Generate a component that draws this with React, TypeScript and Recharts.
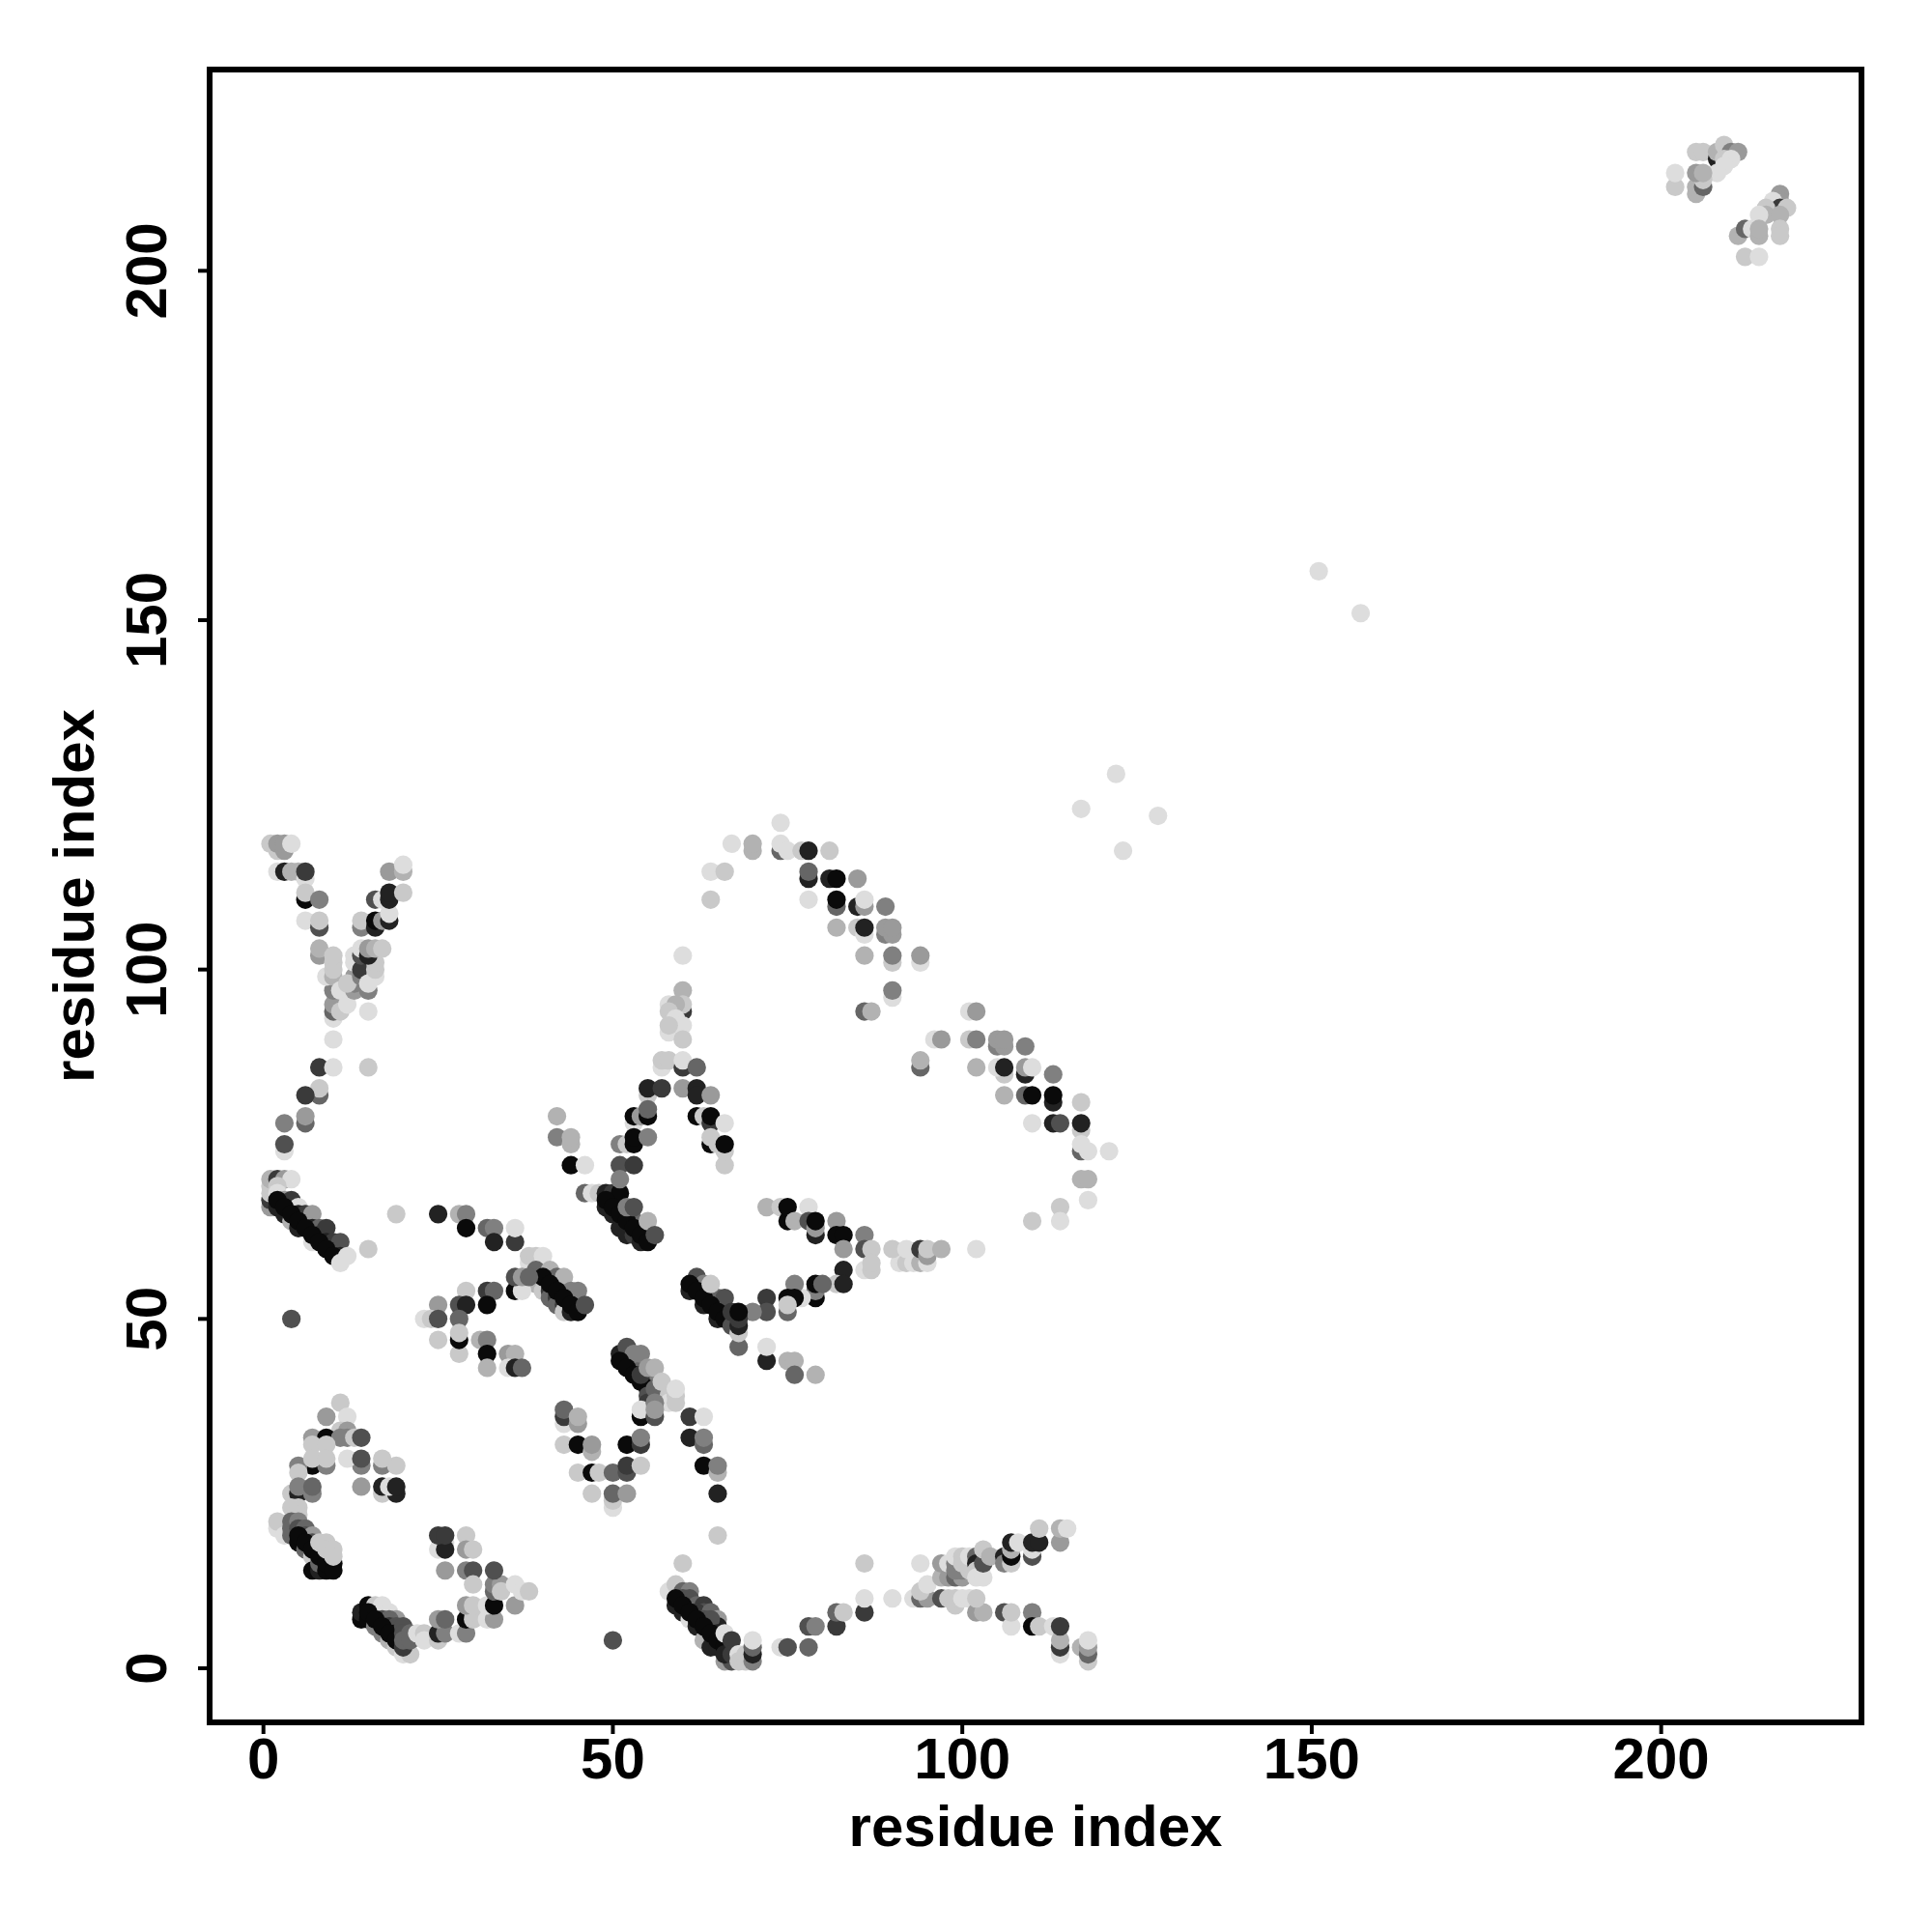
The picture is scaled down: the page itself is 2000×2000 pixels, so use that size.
import { ScatterChart, Scatter, XAxis, YAxis, ReferenceArea, Label } from "recharts";

// contacts as [residue x, residue y, strength 0-9]
type Contact = [number, number, number];

const axisTicks = [0, 50, 100, 150, 200];
const axisLabel = "residue index";

const hookLowLeft: Contact[] = [
  [11,38,1],[9,36,3],[12,36,0],[11,34,1],[12,34,3],[7,33,3],[9,33,9],[11,33,4],[12,33,4],[13,33,1],[14,33,6],
  [7,29,9],[9,29,4],[14,29,4],[17,29,4],[19,29,1],[5,29,4],[7,32,1],[9,32,1],[7,30,1],[9,30,1],[12,30,0],[14,30,6],[17,30,1],
  [14,26,3],[17,25,1],[17,26,8],[19,25,8],[18,26,0],[19,26,8],[5,28,1],[4,25,1],[5,25,8],[5,26,4],[7,25,4],[7,26,5],
  [4,23,1],[5,23,1],[5,22,1],[2,20,0],[2,21,1],[3,19,0],
  [4,21,5],[4,20,5],[4,19,5],[5,21,4],[5,20,6],[5,18,9],[6,20,5],[6,19,6],[6,17,5],[7,19,3],[7,18,6],[7,16,1],
  [7,14,9],[8,14,8],[8,15,5],[8,17,6],[9,14,9],[9,16,6],[10,15,9],
  [5,19,9],[6,18,9],[7,17,9],[8,16,9],[9,15,9],[10,14,9],
  [8,18,1],[9,18,1],[9,17,1],[10,17,1],[10,16,1],
];

const hookLowMid: Contact[] = [
  [14,7,9],[14,8,8],[15,9,9],[15,7,9],[16,8,8],[16,6,4],[16,9,1],[17,9,0],[18,8,0],[19,7,3],
  [17,7,6],[17,5,4],[18,7,5],[18,6,7],[18,4,2],[19,6,6],[19,5,8],[19,3,1],[20,2,0],[21,2,1],
  [15,8,9],[16,7,9],[17,6,9],[18,5,9],[19,4,9],[20,3,7],
  [20,6,6],[20,5,6],[20,4,5],[21,5,5],[21,4,5],[22,5,0],[23,5,1],[23,4,0],[25,4,1],[25,5,8],[26,5,4],[25,7,3],[26,7,5],
  [28,5,0],[29,5,4],[29,7,9],[30,7,1],[30,8,1],[29,9,3],[30,9,1],[32,7,0],[33,7,3],[32,9,0],[33,9,9],[36,9,3],
  [33,11,5],[33,12,4],[34,12,3],[34,11,1],[36,12,0],[37,11,0],[38,11,1],[33,14,6],
  [25,17,0],[26,18,0],[26,17,8],[25,19,7],[26,19,7],[29,19,1],[29,17,3],[30,17,1],[26,14,3],[29,14,4],[30,14,6],[30,12,1],
];

const vLowCentre: Contact[] = [
  [65,25,8],[65,19,1],[60,15,1],[58,11,0],[59,12,1],[59,9,8],[60,11,5],[61,11,4],[60,10,6],[60,8,8],
  [61,10,6],[61,9,6],[61,7,0],[62,9,5],[63,9,7],[63,8,6],[62,8,7],[62,6,8],[64,8,5],[65,7,3],
  [63,7,6],[64,6,6],[65,6,8],[64,7,6],[65,5,8],[63,4,2],[64,3,8],[65,3,8],[66,1,3],[67,1,6],
  [59,10,9],[60,9,9],[61,8,9],[62,7,9],[63,6,9],[64,5,9],[65,4,9],[66,3,9],[66,2,8],
  [66,5,0],[67,4,7],
  [67,2,7],[68,2,0],[68,1,1],[69,1,1],[69,2,1],[70,1,4],[70,2,8],[70,3,5],[70,4,0],
  [74,3,0],[75,3,6],[78,3,5],[78,6,6],[79,6,4],[82,6,7],[82,8,5],[83,8,1],[86,8,7],[86,10,0],[86,15,1],[50,4,6],
];

const forkLowRight: Contact[] = [
  [90,10,0],[93,10,0],[94,10,5],[95,10,3],[94,11,1],[95,12,0],[97,10,6],[98,10,1],[99,9,1],[99,10,1],[100,10,0],[101,10,0],[102,8,3],[103,8,2],[102,10,1],
  [94,15,0],[97,13,2],[98,13,3],[97,15,3],[98,15,0],[99,13,5],[100,13,3],[99,14,4],[99,15,4],[99,16,0],[100,14,4],[100,15,1],[100,16,1],
  [101,14,1],[101,15,1],[101,16,0],[102,16,5],[102,15,8],[102,14,1],[102,13,0],[103,13,0],[103,15,6],[103,17,1],[104,16,2],
  [106,16,8],[106,15,4],[107,15,1],[107,16,9],[107,17,2],[107,18,8],[108,18,0],[110,16,6],[110,17,0],[110,18,8],[111,18,8],
  [111,20,1],[114,18,3],[114,20,2],[115,20,0],
  [106,8,6],[107,6,0],[107,8,1],[110,8,4],[110,6,9],[111,6,1],[113,6,0],[114,2,0],[114,3,7],[114,4,2],[114,6,7],
  [118,1,1],[117,3,2],[118,2,5],[118,3,3],[118,4,0],
];

const sideBandUpper: Contact[] = [
  [19,65,1],[25,65,8],[28,65,2],[29,65,4],[29,63,9],[32,63,5],[33,63,4],[33,61,8],[36,61,7],[36,63,0],
  [38,58,0],[38,59,1],[39,59,1],[40,59,0],[39,57,5],[41,57,2],[42,56,5],[43,56,2],
  [39,55,2],[40,54,1],[41,54,7],[41,53,5],[42,53,7],[42,52,5],[43,52,7],[43,51,1],
  [44,51,8],[44,54,4],[45,54,4],
  [40,56,9],[41,55,9],[42,54,9],[43,53,9],[44,52,9],[45,51,9],[46,52,6],
  [36,54,9],[37,54,0],[36,56,6],[37,56,3],[38,56,5],
  [29,54,1],[32,54,7],[33,54,5],[28,52,6],[29,52,8],[32,52,9],[25,52,3],[23,50,0],[24,50,1],[25,50,6],[28,50,5],
  [25,47,1],[28,45,1],[28,47,9],[28,48,1],[31,47,2],[32,47,4],[32,45,9],[32,43,2],[35,45,3],[36,45,2],[35,43,0],[36,43,8],[37,43,5],
];

const diagCentreHigh: Contact[] = [
  [46,68,5],[47,68,0],[48,68,1],[49,68,8],[50,68,7],[51,68,9],[49,66,8],[50,65,8],[51,63,8],
  [52,62,8],[53,64,5],[54,63,5],[53,62,7],[54,61,8],
  [49,67,9],[50,66,9],[51,65,9],[52,64,9],[53,63,9],[54,62,9],[55,61,9],
  [52,66,4],[53,66,6],[55,64,2],[56,62,6],
];

const diagCentreLow: Contact[] = [
  [51,45,8],[52,44,8],[53,43,8],[54,43,5],[52,46,6],[53,45,4],[54,45,4],[55,42,4],
  [51,44,9],[52,43,9],[53,42,9],[54,41,9],[55,40,9],[54,42,7],
  [55,43,3],[56,43,2],[55,39,6],[55,38,7],[56,40,5],[57,41,1],[58,39,1],[58,38,0],[59,38,1],[59,39,1],[59,40,0],
  [54,36,9],[54,37,0],[56,36,6],[56,38,4],[56,37,3],[61,36,7],[63,36,0],
  [43,35,0],[43,36,7],[43,37,5],[45,35,3],[45,36,2],[43,32,1],[45,32,9],[47,31,2],[47,32,3],
  [52,32,9],[54,32,7],[54,33,4],[61,33,8],[63,32,5],[63,33,4],
  [45,28,1],[47,28,9],[48,28,1],[50,28,5],[52,28,6],[52,29,7],[54,29,1],
  [47,25,1],[50,23,0],[50,24,1],[50,25,5],[52,25,3],
  [63,29,9],[65,28,2],[65,29,4],
];

const armCentreRight: Contact[] = [
  [72,66,2],[74,66,1],[75,64,9],[75,66,9],[76,64,2],[78,66,0],[78,64,6],[79,62,8],[79,63,3],[79,64,9],[82,64,3],[82,62,9],[83,62,9],[83,60,3],
  [86,62,4],[86,60,6],[87,60,1],[86,57,0],[87,57,1],[87,58,1],[83,57,8],[82,55,1],[83,55,8],
  [79,53,9],[79,54,4],[79,55,9],[80,55,5],[77,53,0],[76,55,4],[75,53,9],[76,53,9],[75,51,5],[75,52,1],[72,53,7],[72,51,6],[70,51,4],
  [61,54,8],[62,56,6],[63,52,8],[63,55,4],[65,52,8],[65,53,5],[65,50,8],[66,51,8],[66,53,6],
  [61,55,9],[62,54,9],[63,53,9],[64,52,9],[65,51,9],[66,50,9],[67,49,6],[64,55,1],
  [67,51,7],[68,46,5],[68,48,1],[68,49,8],[68,50,7],[68,51,9],
  [72,44,8],[72,46,0],[75,44,2],[76,44,2],[76,42,5],[79,42,2],
  [91,58,0],[92,58,1],[93,58,0],[94,58,2],[95,58,0],[90,60,1],[92,60,0],[94,60,7],[95,59,3],[95,60,1],[97,60,2],[102,60,0],
];

const diagLeftMid: Contact[] = [
  [8,82,5],[8,83,1],[6,82,7],[8,86,7],[10,86,0],[15,86,1],[6,78,5],[6,79,3],[3,78,4],[3,74,0],[3,75,6],[15,60,1],[4,50,6],
  [1,66,3],[1,67,7],[1,68,1],[1,69,1],[1,70,2],[2,70,7],[3,70,3],[4,70,0],[2,69,1],[2,68,0],[2,66,8],[3,67,3],[4,67,7],[5,66,0],
  [3,65,8],[4,64,2],[5,65,8],[5,63,8],[6,64,8],[6,65,7],[7,65,3],[7,63,8],[7,61,0],
  [8,63,5],[8,62,8],[9,63,7],[9,61,8],[10,61,7],[11,61,6],[11,59,8],
  [2,67,9],[3,66,9],[4,65,9],[5,64,9],[6,63,9],[7,62,9],[8,61,9],[9,60,9],[10,59,9],
  [11,58,0],[12,59,0],
];

const vUpperLeft: Contact[] = [
  [1,118,1],[2,117,1],[2,118,3],[3,117,3],[3,118,3],[4,118,0],[2,114,0],[3,114,8],[4,114,2],[5,114,2],[6,113,0],[6,114,7],
  [6,110,9],[6,111,1],[8,110,4],[6,107,0],[8,106,6],[8,107,1],[8,102,3],[8,103,2],
  [10,93,0],[10,94,5],[10,95,3],[10,97,4],[9,99,0],[10,99,2],[10,100,1],[10,101,1],[10,102,1],[11,94,1],[11,97,0],[12,95,0],[10,90,0],
  [13,97,3],[13,98,4],[13,99,3],[12,98,1],[13,101,0],[13,102,0],[14,99,4],[14,100,7],[14,102,6],[14,103,0],
  [15,97,4],[15,98,0],[16,99,0],[16,100,1],[16,101,1],[15,102,8],[15,103,3],[16,103,2],[17,103,1],[15,94,0],
  [14,106,4],[14,107,1],[16,106,8],[16,107,9],[17,107,3],[18,107,8],[18,108,0],
  [16,110,6],[17,110,0],[18,110,8],[18,111,8],[20,111,1],[18,114,3],[20,114,2],[20,115,0],
];

const ridgeCentre: Contact[] = [
  [60,102,0],[60,97,2],[60,94,7],[60,95,1],[58,95,0],[59,95,2],[58,94,1],[59,93,0],[60,92,0],[58,91,0],[58,92,1],[60,90,1],
  [57,86,0],[57,87,1],[58,87,1],[60,86,7],[60,87,0],[62,86,5],
  [55,82,1],[55,83,8],[57,83,7],[60,83,3],[62,83,8],[62,82,8],[64,82,3],
  [62,79,9],[63,79,1],[64,78,7],[64,79,9],[66,78,0],[53,78,0],[53,79,9],[54,79,3],[55,79,9],[55,80,5],
  [64,75,9],[64,76,1],[65,75,1],[66,72,1],[66,74,1],[66,75,9],
  [51,75,4],[52,75,1],[53,75,9],[53,76,9],[55,76,4],[51,72,6],[53,72,7],[51,70,4],
  [42,79,2],[42,76,4],[44,75,2],[44,76,2],[44,72,9],[46,72,0],
];

const arcUpper: Contact[] = [
  [74,121,0],[67,118,0],[70,117,2],[70,118,2],[74,117,5],[74,118,0],[75,117,0],[77,117,1],[78,117,8],[81,117,1],
  [64,114,0],[66,114,1],[78,113,8],[78,114,5],[81,113,8],[82,113,9],[85,113,3],
  [64,110,1],[78,110,0],[82,109,5],[82,110,9],[85,109,8],[86,109,3],[86,110,0],[89,109,4],
  [82,106,2],[85,106,1],[86,105,0],[86,106,8],[89,105,4],[90,105,3],[89,106,3],[90,106,3],
  [86,102,2],[90,101,1],[90,102,4],[94,101,0],[94,102,3],[90,96,0],[90,97,4],[86,94,5],[87,94,2],
];

const arcRight: Contact[] = [
  [101,94,0],[102,94,3],[96,90,0],[97,90,3],[101,90,1],[102,90,4],[105,89,4],[106,89,3],[105,90,3],[106,90,3],[109,89,4],
  [94,86,5],[94,87,2],[102,86,2],[106,85,1],[105,86,0],[106,86,8],[109,85,8],[109,86,3],[110,86,0],[113,85,4],
  [106,82,2],[109,82,5],[110,82,9],[113,81,8],[113,82,9],[117,81,1],
  [110,78,0],[113,78,8],[114,78,6],[117,77,1],[117,78,8],[117,74,5],[117,75,0],[118,74,0],[121,74,0],
  [117,70,2],[118,70,2],[118,67,0],[114,66,1],[114,64,0],[110,64,1],
];

const sparseFar: Contact[] = [
  [151,157,0],[157,151,0],[117,123,0],[122,128,0],[123,117,0],[128,122,0],
];

const cornerTop: Contact[] = [
  [202,212,1],[202,214,0],[205,217,1],[206,217,1],[208,216,8],[208,217,2],[209,218,1],[210,217,4],[211,217,3],[209,216,1],[210,216,0],[209,215,0],[208,214,0],
  [205,211,2],[205,212,2],[206,212,5],[206,213,1],[205,214,3],[206,214,2],
  [217,211,3],[217,210,3],[216,210,0],[217,209,7],[218,209,1],[215,209,1],[215,208,2],[214,208,0],[217,208,2],[217,206,1],[217,205,1],
  [211,205,2],[212,206,5],[213,206,0],[214,205,2],[214,206,2],[212,202,1],[214,202,0],
];

const contactGroups = [
  hookLowLeft, hookLowMid, vLowCentre, forkLowRight, sideBandUpper, diagCentreHigh, diagCentreLow,
  armCentreRight, diagLeftMid, vUpperLeft, ridgeCentre, arcUpper, arcRight, sparseFar, cornerTop,
];

const shades = ["#dddddd", "#c9c9c9", "#b2b2b2", "#9a9a9a", "#808080", "#666666", "#505050", "#3a3a3a", "#222222", "#0a0a0a"];

const FONT = '"Liberation Sans", Arial, sans-serif';
const DOMAIN: [number, number] = [-7.7, 228.66];
const DOMAIN_Y: [number, number] = [-7.74, 228.8];

function Dot(props: any) {
  return <circle cx={props.cx} cy={props.cy} r={9.6} fill={shades[props.payload.level]} />;
}

function RotatedTick({ x, y, payload }: any) {
  return (
    <text
      x={x}
      y={y}
      transform={`rotate(-90 ${x} ${y})`}
      textAnchor="middle"
      dy={-25}
      fontFamily={FONT}
      fontWeight="bold"
      fontSize={60}
      fill="#000"
    >
      {payload.value}
    </text>
  );
}

export default function App() {
  return (
    <div style={{ position: "absolute", left: 0, top: 0, width: 2000, height: 2000, background: "#fff" }}>
      <ScatterChart width={2000} height={2000} margin={{ top: 72, right: 73, left: 0, bottom: 0 }}>
        <XAxis
          type="number"
          dataKey="x"
          domain={DOMAIN}
          ticks={axisTicks}
          interval={0}
          allowDataOverflow
          height={217}
          axisLine={false}
          tickSize={12}
          tickMargin={3}
          tickLine={{ stroke: "#000", strokeWidth: 4 }}
          tick={{ fontFamily: FONT, fontWeight: "bold", fontSize: 60, fill: "#000" }}
        >
          <Label
            value={axisLabel}
            position="insideBottom"
            offset={89}
            style={{ fontFamily: FONT, fontWeight: "bold", fontSize: 60, fill: "#000" }}
          />
        </XAxis>
        <YAxis
          type="number"
          dataKey="y"
          domain={DOMAIN_Y}
          ticks={axisTicks}
          interval={0}
          allowDataOverflow
          width={217}
          axisLine={false}
          tickSize={12}
          tickMargin={8}
          tickLine={{ stroke: "#000", strokeWidth: 4 }}
          tick={<RotatedTick />}
        >
          <Label
            value={axisLabel}
            angle={-90}
            position="insideLeft"
            offset={76}
            style={{ textAnchor: "middle", fontFamily: FONT, fontWeight: "bold", fontSize: 60, fill: "#000" }}
          />
        </YAxis>
        {contactGroups.map((group, i) => (
          <Scatter
            key={i}
            data={group.map(([x, y, level]) => ({ x, y, level }))}
            shape={<Dot />}
            isAnimationActive={false}
          />
        ))}
        <ReferenceArea
          x1={DOMAIN[0]}
          x2={DOMAIN[1]}
          y1={DOMAIN_Y[0]}
          y2={DOMAIN_Y[1]}
          fill="none"
          stroke="#000"
          strokeWidth={6}
          ifOverflow="visible"
        />
      </ScatterChart>
    </div>
  );
}
